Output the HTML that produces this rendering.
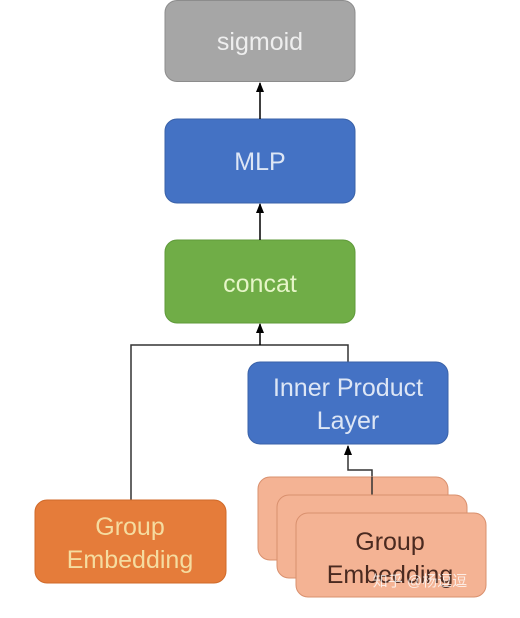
<!DOCTYPE html>
<html><head><meta charset="utf-8"><style>
html,body{margin:0;padding:0;background:#fff;width:520px;height:618px;overflow:hidden}
text{font-family:"Liberation Sans","Noto Sans CJK SC",sans-serif}
</style></head><body>
<svg width="520" height="618" viewBox="0 0 520 618" xmlns="http://www.w3.org/2000/svg">
<defs>
<marker id="a" markerWidth="10" markerHeight="8" refX="9" refY="4" orient="auto" markerUnits="userSpaceOnUse">
<path d="M0,0 L10,4 L0,8 Z" fill="#000"/></marker>
</defs>
<rect x="165" y="0.5" width="190" height="81" rx="12" fill="#a6a6a6" stroke="#8c8c8c"/>
<text x="260" y="50" font-size="25" fill="#eeeeee" text-anchor="middle">sigmoid</text>
<rect x="165" y="119" width="190" height="84" rx="12" fill="#4472c4" stroke="#3a62a8"/>
<text x="260" y="170" font-size="25" fill="#dde6f5" text-anchor="middle">MLP</text>
<rect x="165" y="240" width="190" height="83" rx="12" fill="#70ad47" stroke="#5f9a3a"/>
<text x="260" y="292" font-size="25" fill="#e6f5c8" text-anchor="middle">concat</text>
<line x1="260" y1="119" x2="260" y2="83" stroke="#000" stroke-width="1.5" marker-end="url(#a)"/>
<line x1="260" y1="240" x2="260" y2="204" stroke="#000" stroke-width="1.5" marker-end="url(#a)"/>
<polyline points="131,500 131,345 348,345 348,362" fill="none" stroke="#333" stroke-width="1.5"/>
<line x1="260" y1="345" x2="260" y2="324" stroke="#000" stroke-width="1.5" marker-end="url(#a)"/>
<rect x="248" y="362" width="200" height="82" rx="12" fill="#4472c4" stroke="#3a62a8"/>
<text x="348" y="396" font-size="25" fill="#dde6f5" text-anchor="middle">Inner Product</text>
<text x="348" y="429" font-size="25" fill="#dde6f5" text-anchor="middle">Layer</text>
<polyline points="372,495 372,470 348,470 348,446" fill="none" stroke="#333" stroke-width="1.5" marker-end="url(#a)"/>
<rect x="35" y="500" width="191" height="83" rx="12" fill="#e57c3a" stroke="#d06a2a"/>
<text x="130" y="535" font-size="25" fill="#f5dca0" text-anchor="middle">Group</text>
<text x="130" y="568" font-size="25" fill="#f5dca0" text-anchor="middle">Embedding</text>
<rect x="258" y="477" width="190" height="83" rx="12" fill="#f4b394" stroke="#d9906e"/>
<line x1="372" y1="477" x2="372" y2="495" stroke="#333" stroke-width="1.5"/>
<rect x="277" y="495" width="190" height="83" rx="12" fill="#f4b394" stroke="#d9906e"/>
<rect x="296" y="513" width="190" height="84" rx="12" fill="#f4b394" stroke="#d9906e"/>
<text x="390" y="550" font-size="25" fill="#4a2a20" text-anchor="middle">Group</text>
<text x="390" y="583" font-size="25" fill="#4a2a20" text-anchor="middle">Embedding</text>
<text x="420" y="586" font-size="15" fill="#ffffff" fill-opacity="0.75" text-anchor="middle">知乎 @杨逗逗</text>
</svg>
</body></html>
